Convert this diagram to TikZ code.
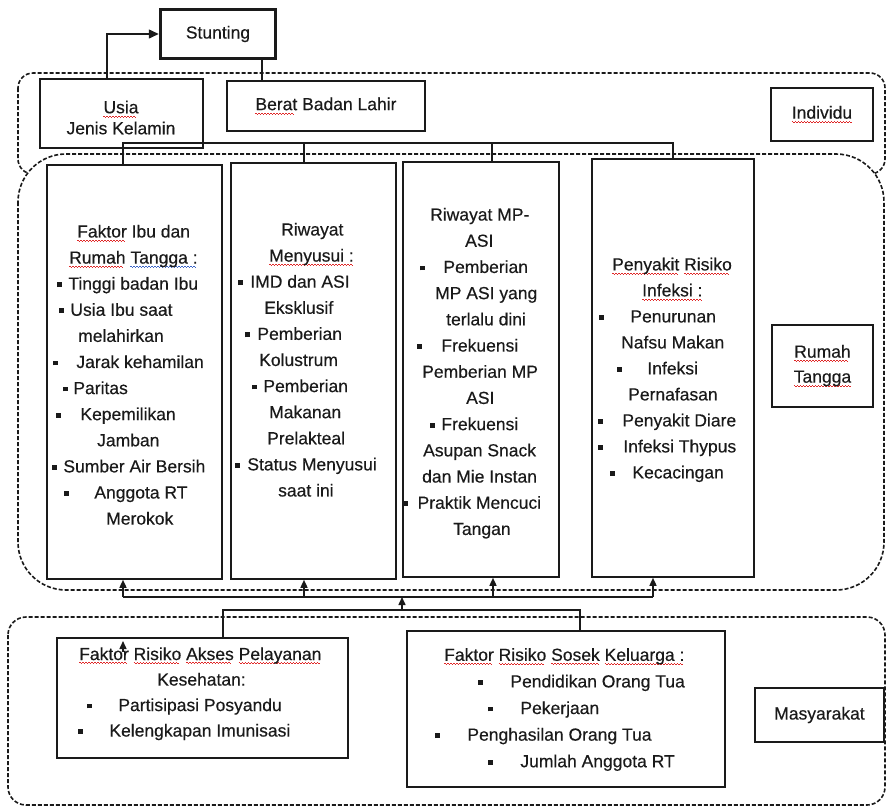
\documentclass[tikz,border=0pt]{standalone}
\usepackage{fontspec}
\setmainfont{Liberation Sans}[UprightFeatures={FakeBold=0.35}]
\usetikzlibrary{arrows.meta}
\definecolor{ink}{HTML}{1A1A1A}
\definecolor{spellred}{HTML}{E02828}
\definecolor{gramblue}{HTML}{3A64C8}
\newcommand\mainsz{\fontsize{17.5}{25.7}\selectfont}
\newcommand\szb[1]{\fontsize{17.5}{#1}\selectfont}
\newcommand\bul{\rule[2.6pt]{4.6pt}{4.8pt}}
\newcommand\bl[2]{\hspace*{#1pt}\bul\hspace*{#2pt}}
\newcommand\ind[1]{\hspace*{#1pt}}
\newsavebox\wvbox
\newcommand\wvline[2]{\sbox\wvbox{#2}\rlap{\textcolor{#1}{\leaders\hbox to 3pt{\rule[-3.4pt]{1.5pt}{1pt}\rule[-4.4pt]{1.5pt}{1pt}}\hskip\wd\wvbox}}\usebox\wvbox}
\newcommand\rwave[1]{\wvline{spellred}{#1}}
\newcommand\bwave[1]{\wvline{gramblue}{#1}}
\begin{document}
\begin{tikzpicture}[x=1pt,y=-1pt,
  box/.style={draw=ink, line width=1.6pt, fill=white, inner sep=0pt, text=ink, font=\mainsz, align=center},
  region/.style={draw=ink, line width=1.6pt, dash pattern=on 4pt off 2pt},
  txt/.style={anchor=north west, inner sep=0pt, align=left, text=ink, font=\mainsz},
  lbl/.style={text=ink, inner sep=0pt, align=center},
  conn/.style={draw=ink, line width=1.5pt},
  arr/.style={conn, -{Triangle[length=8pt,width=7pt]}}]
\useasboundingbox (0,0) rectangle (887,807);
% regions
\draw[region, rounded corners=15pt] (18,73) rectangle (885,174);
\draw[region, fill=white, rounded corners=48pt] (18,154) rectangle (884,590);
\draw[region, rounded corners=18pt] (8,617) rectangle (885,805);
% boxes
\node[box, minimum width=115pt, minimum height=49pt, line width=3.5pt] (stunt) at (218,34) {Stunting};
\node[box, minimum width=163pt, minimum height=69pt] (usia) at (121.5,113.5) {};
\node[box, minimum width=198pt, minimum height=50pt] (berat) at (326,106) {\rwave{Berat} Badan Lahir};
\node[box, minimum width=102pt, minimum height=53pt] (indiv) at (822,114.5) {\rwave{Individu}};
\node[box, minimum width=175pt, minimum height=414pt] (b1) at (134.5,372) {};
\node[box, minimum width=165pt, minimum height=416pt] (b2) at (313.5,371) {};
\node[box, minimum width=156pt, minimum height=415pt] (b3) at (481,369.5) {};
\node[box, minimum width=162pt, minimum height=418pt] (b4) at (673,368) {};
\node[box, minimum width=101pt, minimum height=82pt, font=\szb{25}] (rt) at (822.5,366) {\rwave{Rumah}\\\rwave{Tangga}};
\node[box, minimum width=291pt, minimum height=120pt] (akses) at (202.5,698) {};
\node[box, minimum width=318pt, minimum height=156pt] (sosek) at (566,709) {};
\node[box, minimum width=129pt, minimum height=54pt] (masy) at (819.5,715) {Masyarakat};
% connectors top
\coordinate (k1) at (107,33);
\draw[arr, -{Triangle[length=10pt,width=9pt]}] (k1 |- usia.north) |- (stunt.west);
\coordinate (k2) at (262,70);
\draw[conn] (k2 |- stunt.south) -- (k2 |- berat.north);
\coordinate (j1) at (123,143);
\coordinate (j2) at (304,143);
\coordinate (j3) at (492,143);
\coordinate (j4) at (673,143);
\draw[conn] (j1 |- b1.north) -- (j1) -- (j4) -- (j4 |- b4.north);
\draw[conn] (j2) -- (j2 |- b2.north);
\draw[conn] (j3) -- (j3 |- b3.north);
% connectors bottom
\coordinate (a1) at (123,597);
\coordinate (a2) at (304,597);
\coordinate (a3) at (493,597);
\coordinate (a4) at (653,597);
\draw[conn] (a1) -- (a4);
\draw[arr] (a1) -- (a1 |- b1.south);
\draw[arr] (a2) -- (a2 |- b2.south);
\draw[arr] (a3) -- (a3 |- b3.south);
\draw[arr] (a4) -- (a4 |- b4.south);
\coordinate (c1) at (223,610);
\coordinate (c2) at (580,610);
\coordinate (cm) at (402,610);
\coordinate (cmt) at (402,597);
\draw[conn] (c1 |- akses.north) -- (c1) -- (c2) -- (c2 |- sosek.north);
\draw[arr] (cm) -- (cmt);
\coordinate (s1) at (123,652);
\coordinate (s2) at (123,641);
\draw[arr] (s1) -- (s2);
% texts
\node[lbl, font=\szb{21}] (usiat) at (121,117.5) {\rwave{Usia}\\Jenis Kelamin};
\node[txt, font=\szb{26.1}] (t1) at (47,219) {\strut\ind{30}\rwave{Faktor} Ibu dan\\
\ind{22}\rwave{Rumah} \bwave{Tangga :}\\
\bl{9.8}{6.8}Tinggi badan Ibu\\
\bl{11.8}{6.8}Usia Ibu saat\\
\ind{31}melahirkan\\
\bl{5.8}{18.8}Jarak kehamilan\\
\bl{15.8}{5.8}Paritas\\
\bl{8.8}{19.8}Kepemilikan\\
\ind{50}Jamban\\
\bl{4.8}{6.8}Sumber Air Bersih\\
\bl{16.8}{25.8}Anggota RT\\
\ind{59}Merokok};
\node[txt, font=\szb{26.1}] (t2) at (231,217) {\strut\ind{50}Riwayat\\
\ind{38}\rwave{Menyusui :}\\
\bl{6.8}{7.8}IMD dan ASI\\
\ind{33}Eksklusif\\
\bl{13.8}{7.8}Pemberian\\
\ind{28}Kolustrum\\
\bl{20.8}{6.8}Pemberian\\
\ind{38}Makanan\\
\ind{36}Prelakteal\\
\bl{3.8}{7.8}Status Menyusui\\
\ind{47}saat ini};
\node[txt, font=\szb{26.2}] (t3) at (403,202) {\strut\ind{27}Riwayat MP-\\
\ind{62}ASI\\
\bl{16.8}{18.8}Pemberian\\
\ind{32}MP ASI yang\\
\ind{43}terlalu dini\\
\bl{13.8}{19.8}Frekuensi\\
\ind{19}Pemberian MP\\
\ind{63}ASI\\
\bl{26.8}{6.8}Frekuensi\\
\ind{20}Asupan Snack\\
\ind{19}dan Mie Instan\\
\bl{0}{9.8}Praktik Mencuci\\
\ind{50}Tangan};
\node[txt, font=\szb{26}] (t4) at (592,252) {\strut\ind{20}\rwave{Penyakit} \rwave{Risiko}\\
\ind{50}\rwave{Infeksi :}\\
\bl{6.8}{26.8}Penurunan\\
\ind{29}Nafsu Makan\\
\bl{24.8}{25.8}Infeksi\\
\ind{36}Pernafasan\\
\bl{5.8}{19.8}Penyakit Diare\\
\bl{5.8}{20.8}Infeksi Thypus\\
\bl{17.8}{17.8}Kecacingan};
\node[txt, font=\szb{25.5}] (t5) at (57,642) {\strut\ind{22}\rwave{Faktor} \rwave{Risiko} \rwave{Akses} \rwave{Pelayanan}\\
\ind{100}Kesehatan:\\
\bl{29.8}{26.8}Partisipasi Posyandu\\
\bl{20.8}{26.8}Kelengkapan Imunisasi};
\node[txt, font=\szb{26.6}] (t6) at (407,642) {\strut\ind{37}\rwave{Faktor} \rwave{Risiko} \rwave{Sosek} \rwave{Keluarga :}\\
\bl{70.8}{27.8}Pendidikan Orang Tua\\
\bl{80.8}{27.8}Pekerjaan\\
\bl{27.8}{27.8}Penghasilan Orang Tua\\
\bl{80.8}{27.8}Jumlah Anggota RT};
\end{tikzpicture}
\end{document}
